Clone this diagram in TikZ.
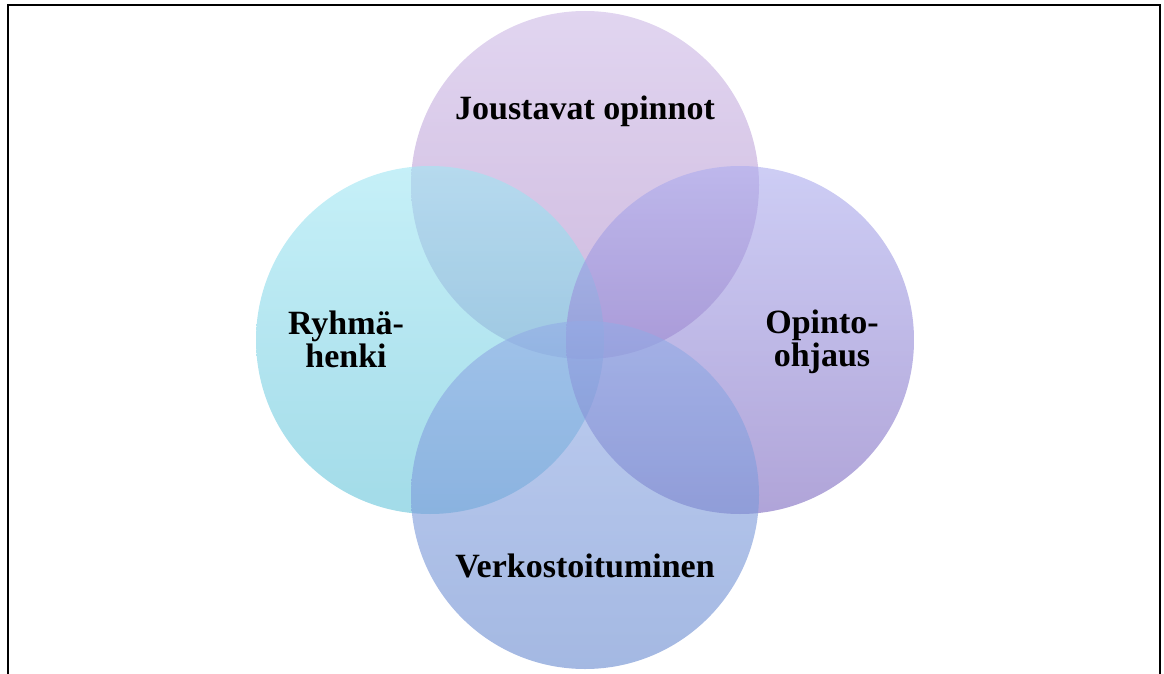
\documentclass[tikz,border=0pt]{standalone}
\usepackage{fontspec}
\setmainfont{Liberation Serif}
\begin{document}
\begin{tikzpicture}[x=1pt,y=-1pt,
  bubble/.style={circle, minimum size=348pt, inner sep=0pt, fill opacity=0.6, draw=none},
  lbl/.style={font=\fontsize{34}{33}\selectfont\bfseries, align=center, text=black, inner sep=0pt}]
\definecolor{tT}{RGB}{205,185,230}\definecolor{tB}{RGB}{172,138,200}
\definecolor{lT}{RGB}{160,230,243}\definecolor{lB}{RGB}{100,195,217}
\definecolor{rT}{RGB}{172,172,238}\definecolor{rB}{RGB}{123,103,190}
\definecolor{bT}{RGB}{147,172,230}\definecolor{bB}{RGB}{103,137,207}
\useasboundingbox (0,0) rectangle (1164,674);
\node[bubble, top color=tT, bottom color=tB] (top) at (585,185) {};
\node[bubble, top color=lT, bottom color=lB] (left) at (430,340) {};
\node[bubble, top color=rT, bottom color=rB] (right) at (740,340) {};
\node[bubble, top color=bT, bottom color=bB] (bottom) at (585,495) {};
\node[lbl, anchor=base] (tl) at (585,120) {Joustavat opinnot};
\node[lbl] (ll) at (346,339) {Ryhmä-\\henki};
\node[lbl] (rl) at (822,342) {Opinto-\\ohjaus};
\node[lbl, anchor=base] (bl) at (585,577) {Verkostoituminen};
\draw[line width=2pt] (8,690) -- (8,5) -- (1160,5) -- (1160,690);
\end{tikzpicture}
\end{document}
